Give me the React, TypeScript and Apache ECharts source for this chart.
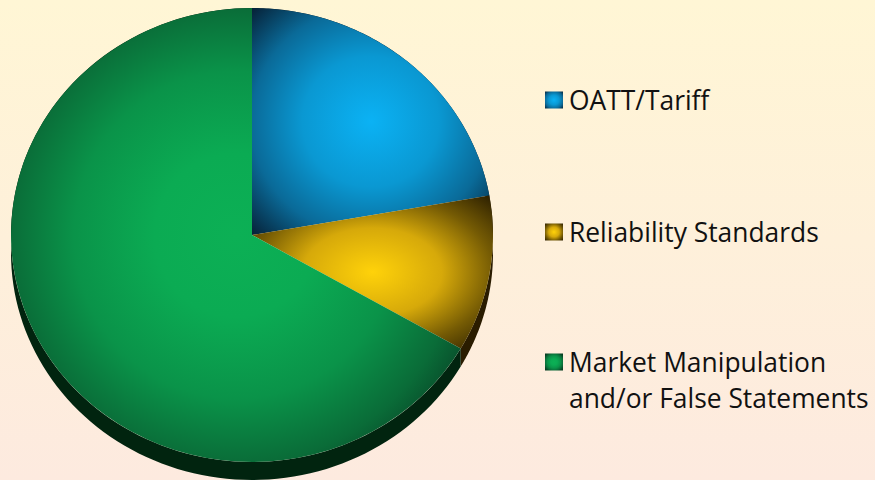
import React, { useEffect, useRef } from "react";
import * as echarts from "echarts";

const categories = ["OATT/Tariff", "Reliability Standards", "Market Manipulation\nand/or False Statements"];
const values = [2, 1, 6];
const gradientStops = [
  [[0, "#0bb2f4"], [0.4, "#0a98d2"], [0.7, "#0a6a98"], [1, "#061c30"]],
  [[0, "#ffd20a"], [0.4, "#d6a90a"], [0.7, "#745a04"], [1, "#241900"]],
  [[0, "#0cb055"], [0.25, "#0bab53"], [0.5, "#0a9349"], [0.7, "#0a6c38"], [0.8, "#084e2b"], [1, "#03301a"]],
];
const sideColors = ["#04202e", "#2a1c00", "#01240f"];
const legendTops = [82, 214, 308];

const CX = 252, CY = 235, RX = 241, RY = 227, DEPTH = 18;
const total = values.reduce((a, b) => a + b, 0);

const fillFor = (i: number) =>
  new echarts.graphic.RadialGradient(
    0.5, 0.5, 0.72,
    gradientStops[i].map(([offset, color]) => ({ offset: offset as number, color: color as string }))
  );

export default function App() {
  const ref = useRef<HTMLDivElement>(null);
  useEffect(() => {
    document.body.style.margin = "0";
    const chart = echarts.init(ref.current!, undefined, { renderer: "svg" });
    const series = categories.map((name, i) => ({
      type: "custom",
      name,
      coordinateSystem: "none",
      silent: true,
      clip: false,
      itemStyle: { color: fillFor(i) },
      data: [[values[i]]],
      renderItem: (_p: any, api: any) => {
        const before = values.slice(0, i).reduce((a, b) => a + b, 0);
        const start = -Math.PI / 2 + (before / total) * Math.PI * 2;
        const end = start + (api.value(0) / total) * Math.PI * 2;
        const shape = { cx: 0, cy: 0, r0: 0, r: RX, startAngle: start, endAngle: end, clockwise: true };
        const steps = 120;
        const upper: number[][] = [];
        const lower: number[][] = [];
        for (let k = 0; k <= steps; k++) {
          const a = start + ((end - start) * k) / steps;
          const x = CX + RX * Math.cos(a);
          const y = CY + RY * Math.sin(a);
          upper.push([x, y]);
          lower.unshift([x, y + DEPTH]);
        }
        return {
          type: "group",
          children: [
            { type: "polygon", z2: 1, shape: { points: upper.concat(lower) }, style: { fill: sideColors[i] } },
            {
              type: "group", x: CX, y: CY, scaleY: RY / RX,
              children: [{ type: "sector", z2: 5, shape, style: { fill: fillFor(i) } }],
            },
          ],
        };
      },
    }));
    chart.setOption({
      animation: false,
      backgroundColor: new echarts.graphic.LinearGradient(0, 0, 0, 1, [
        { offset: 0, color: "#fff6d5" },
        { offset: 1, color: "#fdeadf" },
      ]),
      legend: categories.map((name, i) => ({
        data: [name],
        left: 545,
        top: legendTops[i],
        orient: "vertical",
        padding: 0,
        itemWidth: 18,
        itemHeight: 17,
        itemGap: 0,
        icon: "rect",
        selectedMode: false,
        formatter: (n: string) => (n.includes("\n") ? "\n" + n : n),
        textStyle: {
          fontFamily: "Open Sans",
          fontSize: 26.4,
          lineHeight: 36,
          color: "#111111",
          padding: [0, 0, 0, 1],
        },
      })),
      series,
    });
    return () => chart.dispose();
  }, []);
  return <div ref={ref} style={{ width: 875, height: 480 }} />;
}
